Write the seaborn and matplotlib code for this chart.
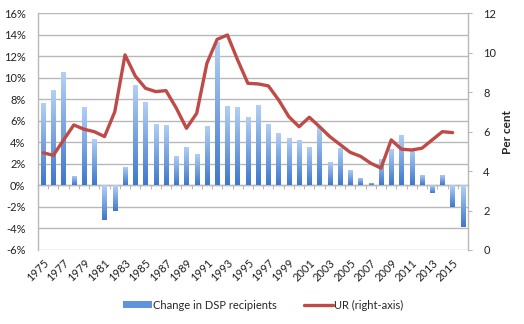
import numpy as np
import pandas as pd
import matplotlib
matplotlib.use("Agg")
import matplotlib.pyplot as plt
from matplotlib.patches import Patch
from matplotlib.colors import LinearSegmentedColormap
import seaborn as sns

# Annual data, 1975-2016
years = list(range(1975, 2017))
dsp_change = [7.7, 8.9, 10.5, 0.9, 7.3, 4.3, -3.2, -2.4, 1.7, 9.3,
              7.8, 5.7, 5.6, 2.7, 3.6, 2.9, 5.5, 13.3, 7.4, 7.3,
              6.4, 7.5, 5.7, 4.9, 4.4, 4.2, 3.6, 5.4, 2.2, 3.5,
              1.4, 0.7, 0.25, 2.5, 3.35, 4.65, 3.4, 1.0, -0.7, 1.0,
              -2.0, -3.9]
unemployment = [4.93, 4.80, 5.58, 6.34, 6.12, 6.00, 5.75, 7.01, 9.89, 8.82,
                8.20, 8.03, 8.08, 7.2, 6.17, 6.93, 9.47, 10.68, 10.9, 9.63,
                8.45, 8.42, 8.32, 7.61, 6.76, 6.25, 6.73, 6.25, 5.75, 5.35,
                4.95, 4.75, 4.4, 4.15, 5.58, 5.11, 5.07, 5.16, 5.58, 6.0,
                5.95, np.nan]
left_ticks = list(range(-6, 17, 2))
right_ticks = list(range(0, 13, 2))
bar_label = "Change in DSP recipients"
line_label = "UR (right-axis)"

df = pd.DataFrame({"year": [str(y) for y in years], "pos": np.arange(len(years)),
                   "dsp": dsp_change, "ur": unemployment})

sns.set_theme(style="white")
plt.rcParams["font.family"] = ["Lato", "DejaVu Sans"]
plt.rcParams["font.size"] = 8

grid_grey = "#b8b8b8"
red = "#be4b48"
blue_top = "#b3d0f5"
blue_bottom = "#3f78cc"

fig = plt.figure(figsize=(5.24, 3.24), dpi=100)
ax = fig.add_axes([38 / 524, 1 - 250 / 324, (468 - 38) / 524, (250 - 13.3) / 324])

sns.barplot(data=df, x="year", y="dsp", ax=ax, width=0.42,
            color=blue_bottom, saturation=1, zorder=3)

ymin, ymax = -6, 16
ax.set_ylim(ymin, ymax)
ax.set_xlim(-0.5, len(years) - 0.5)

# vertical gradient fill inside each bar
cmap = LinearSegmentedColormap.from_list("bar", [blue_bottom, blue_top])
grad = np.linspace(0, 1, 64).reshape(-1, 1)
for p in ax.patches:
    x0, y0 = p.get_x(), p.get_y()
    w, h = p.get_width(), p.get_height()
    lo, hi = min(y0, y0 + h), max(y0, y0 + h)
    im = ax.imshow(grad, cmap=cmap, origin="lower", aspect="auto",
                   extent=[x0, x0 + w, lo, hi], zorder=3, interpolation="bilinear")
    im.set_clip_path(p)
    p.set_facecolor("none")
    p.set_edgecolor("none")
ax.set_xlim(-0.5, len(years) - 0.5)
ax.set_ylim(ymin, ymax)

ax.set_yticks(left_ticks)
ax.set_yticklabels([f"{t}%" for t in left_ticks])
ax.yaxis.grid(True, color=grid_grey, lw=1.0, zorder=0)
ax.set_axisbelow(True)
for s in ["top", "right", "bottom"]:
    ax.spines[s].set_visible(False)
ax.spines["left"].set_color(grid_grey)
ax.spines["left"].set_linewidth(1.0)
ax.tick_params(axis="y", length=0, pad=9, colors="#222222", labelsize=8)

# year labels along the bottom, every other year
ax.set_xticks(np.arange(0, len(years), 2))
ax.set_xticklabels([str(y) for y in years[::2]], rotation=45, ha="right",
                   va="top", rotation_mode="anchor")
ax.tick_params(axis="x", length=0, pad=5, colors="#222222", labelsize=8)
ax.set_xlabel("")
ax.set_ylabel("")

# category axis crossing at zero with small boundary ticks
zero_axis = ax.secondary_xaxis((0 - ymin) / (ymax - ymin))
zero_axis.set_xticks(np.arange(-0.5, len(years), 1))
zero_axis.set_xticklabels([])
zero_axis.tick_params(axis="x", length=3, width=0.8, color=grid_grey, direction="out")
zero_axis.spines["bottom"].set_color(grid_grey)
zero_axis.spines["bottom"].set_linewidth(1.0)
zero_axis.set_zorder(2)

# unemployment rate on the right axis
ax2 = ax.twinx()
line_df = df.dropna(subset=["ur"])
sns.lineplot(data=line_df, x="pos", y="ur", ax=ax2, color=red, lw=2.4, zorder=4)
ax2.set_ylim(0, 12)
ax2.set_xlim(-0.5, len(years) - 0.5)
ax2.set_yticks(right_ticks)
ax2.set_yticklabels([str(t) for t in right_ticks])
ax2.tick_params(axis="y", length=3, width=0.8, color=grid_grey, pad=8,
                colors="#222222", labelsize=8)
ax2.tick_params(axis="y", color=grid_grey)
for s in ["top", "left", "bottom"]:
    ax2.spines[s].set_visible(False)
ax2.spines["right"].set_color(grid_grey)
ax2.spines["right"].set_linewidth(1.0)
ax2.set_xlabel("")
ax2.set_ylabel("Per cent", fontweight="bold", fontsize=8.5, labelpad=4)
if ax2.get_legend():
    ax2.get_legend().remove()

handles = [Patch(facecolor="#5f93dc", edgecolor="none"),
           plt.Line2D([0], [0], color=red, lw=2.4)]
fig.legend(handles, [bar_label, line_label], loc="center",
           bbox_to_anchor=(263 / 524, 1 - 305 / 324), ncol=2, frameon=False,
           fontsize=8, handlelength=2.6, handleheight=0.5, columnspacing=2.5,
           handletextpad=0.1)

fig.savefig("out.png", dpi=100)
